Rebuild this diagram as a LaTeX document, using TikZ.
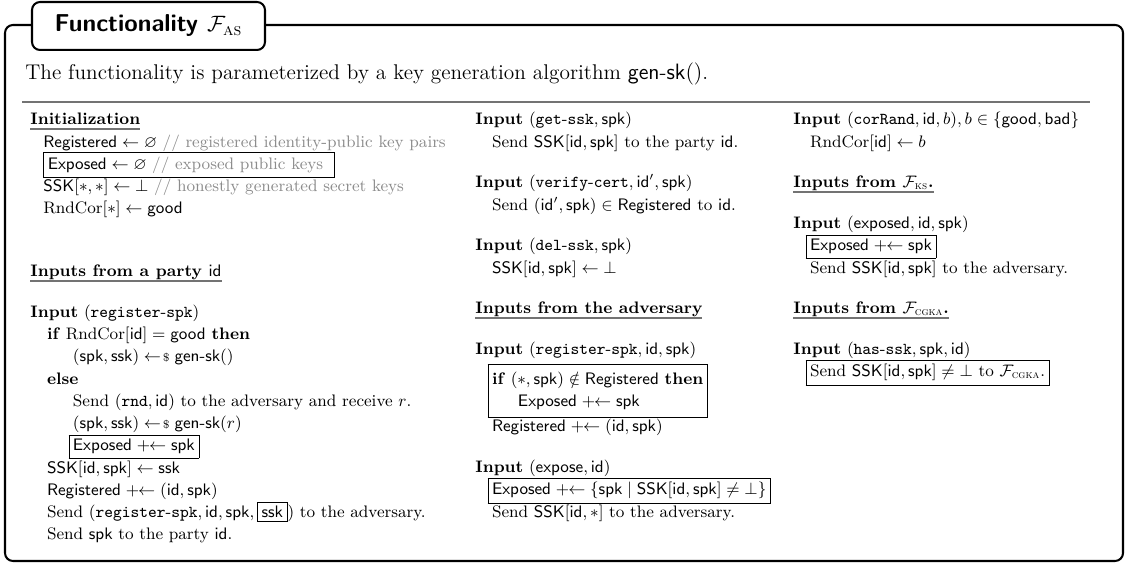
\documentclass[tikz,border=0pt]{standalone}
\usepackage{amsmath,amssymb}
\usetikzlibrary{positioning}

\definecolor{cmtgray}{gray}{0.55}
\definecolor{rulegray}{gray}{0.45}

\newcommand{\cmt}[1]{{\color{cmtgray}// #1}}
\newcommand{\ind}{\hspace*{9pt}}
\newcommand{\indd}{\hspace*{23pt}}
\newcommand{\addto}{\mathrel{\mathsf{+}\!\!\leftarrow}}
\newcommand{\smp}{\mathrel{\leftarrow\!{\scriptstyle\$}}}
\newcommand{\bx}[1]{\hspace*{-\dimexpr\fboxsep+\fboxrule\relax}\fbox{#1}}
\newcommand{\hd}[1]{\setbox0\hbox{\textbf{#1}}\leavevmode
  \rlap{\color{rulegray}\rule[-2.8pt]{\wd0}{0.9pt}}\box0}
\newcommand{\Fn}[1]{\mathcal{F}_{\text{\normalfont\textsc{#1}}}}
\setlength{\fboxsep}{2pt}

\tikzset{
  frame/.style={line width=1.1pt, rounded corners=4.3pt},
  titlebox/.style={draw, line width=1.1pt, rounded corners=4.3pt, fill=white,
    minimum width=125.8pt, minimum height=25.9pt, inner sep=0pt,
    font=\fontsize{13.2pt}{16pt}\selectfont\sffamily\bfseries},
  column/.style={anchor=north west, align=left, inner sep=0pt,
    font=\fontsize{9pt}{12pt}\selectfont},
}

\begin{document}
\begin{tikzpicture}[x=0.54pt,y=-0.54pt]
\useasboundingbox (0,0) rectangle (1126,566);
% outer frame and title
\draw[frame] (5,25) rectangle (1123,561);
\node[titlebox] (title) at (148.5,26) {Functionality $\Fn{as}$};
\node[anchor=base west, inner sep=0pt, font=\fontsize{11.5pt}{14pt}\selectfont] (intro) at (25,80)
  {The functionality is parameterized by a key generation algorithm $\mathsf{gen\text{-}sk}()$.};
\draw[rulegray, line width=1pt] (22,102) -- (1090,102);

% left column
\node[column] (init) at (30,109) {\strut\hd{Initialization}\\
\hspace*{7pt}$\mathsf{Registered} \leftarrow \varnothing$ \cmt{registered identity-public key pairs}\\
\hspace*{7pt}\fbox{$\mathsf{Exposed} \leftarrow \varnothing$ \cmt{exposed public keys}\hspace{4pt}}\\
\hspace*{7pt}$\mathsf{SSK}[*,*] \leftarrow \bot$ \cmt{honestly generated secret keys}\\
\hspace*{7pt}$\mathrm{RndCor}[*] \leftarrow \mathsf{good}$\\[22pt]
\hd{Inputs from a party $\mathsf{id}$}\\[10pt]
\textbf{Input} $(\mathtt{register\text{-}spk})$\\
\ind\textbf{if} $\mathrm{RndCor}[\mathsf{id}] = \mathsf{good}$ \textbf{then}\\
\indd$(\mathsf{spk},\mathsf{ssk}) \smp \mathsf{gen\text{-}sk}()$\\
\ind\textbf{else}\\
\indd Send $(\mathtt{rnd},\mathsf{id})$ to the adversary and receive $r$.\\
\indd$(\mathsf{spk},\mathsf{ssk}) \smp \mathsf{gen\text{-}sk}(r)$\\
\indd\bx{$\mathsf{Exposed} \addto \mathsf{spk}$}\\
\ind$\mathsf{SSK}[\mathsf{id},\mathsf{spk}] \leftarrow \mathsf{ssk}$\\
\ind$\mathsf{Registered} \addto (\mathsf{id},\mathsf{spk})$\\
\ind Send $(\mathtt{register\text{-}spk}, \mathsf{id}, \mathsf{spk}, \fbox{$\mathsf{ssk}$})$ to the adversary.\\
\ind Send $\mathsf{spk}$ to the party $\mathsf{id}$.};

% middle column
\node[column] (party) at (475,109) {\strut\textbf{Input} $(\mathtt{get\text{-}ssk}, \mathsf{spk})$\\
\ind Send $\mathsf{SSK}[\mathsf{id},\mathsf{spk}]$ to the party $\mathsf{id}$.\\[10pt]
\textbf{Input} $(\mathtt{verify\text{-}cert}, \mathsf{id}', \mathsf{spk})$\\
\ind Send $(\mathsf{id}',\mathsf{spk}) \in \mathsf{Registered}$ to $\mathsf{id}$.\\[10pt]
\textbf{Input} $(\mathtt{del\text{-}ssk}, \mathsf{spk})$\\
\ind$\mathsf{SSK}[\mathsf{id},\mathsf{spk}] \leftarrow \bot$\\[10pt]
\hd{Inputs from the adversary}\\[10pt]
\textbf{Input} $(\mathtt{register\text{-}spk}, \mathsf{id}, \mathsf{spk})$\\[2pt]
\ind\bx{\begin{tabular}{@{}l@{}}\textbf{if} $(*,\mathsf{spk}) \notin \mathsf{Registered}$ \textbf{then}\\
\hspace*{14pt}$\mathsf{Exposed} \addto \mathsf{spk}$\end{tabular}}\\
\ind$\mathsf{Registered} \addto (\mathsf{id},\mathsf{spk})$\\[10pt]
\textbf{Input} $(\mathsf{expose}, \mathsf{id})$\\
\ind\bx{$\mathsf{Exposed} \addto \{\mathsf{spk} \mid \mathsf{SSK}[\mathsf{id},\mathsf{spk}] \neq \bot\}$}\\
\ind Send $\mathsf{SSK}[\mathsf{id},*]$ to the adversary.};

% right column
\node[column] (extern) at (793,109) {\strut\textbf{Input} $(\mathtt{corRand}, \mathsf{id}, b), b \in \{\mathsf{good},\mathsf{bad}\}$\\
\ind$\mathrm{RndCor}[\mathsf{id}] \leftarrow b$\\[10pt]
\hd{Inputs from $\Fn{ks}$.}\\[10pt]
\textbf{Input} $(\mathsf{exposed}, \mathsf{id}, \mathsf{spk})$\\
\ind\bx{$\mathsf{Exposed} \addto \mathsf{spk}$}\\
\ind Send $\mathsf{SSK}[\mathsf{id},\mathsf{spk}]$ to the adversary.\\[10pt]
\hd{Inputs from $\Fn{cgka}$.}\\[10pt]
\textbf{Input} $(\mathtt{has\text{-}ssk}, \mathsf{spk}, \mathsf{id})$\\
\ind\bx{Send $\mathsf{SSK}[\mathsf{id},\mathsf{spk}] \neq \bot$ to $\Fn{cgka}$.}};
\end{tikzpicture}
\end{document}
